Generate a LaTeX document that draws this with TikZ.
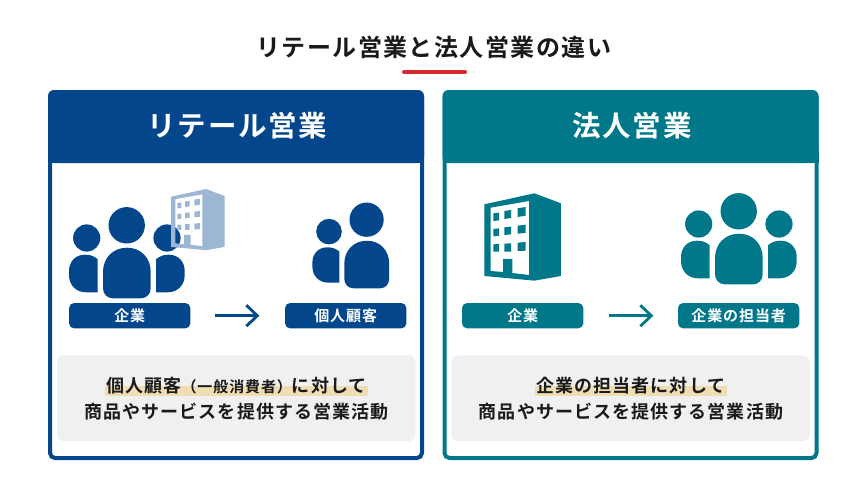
\documentclass[tikz,border=0pt]{standalone}
\usepackage{fontspec}
\usetikzlibrary{arrows.meta}
\newfontfamily\jp[BoldFont={Noto Sans CJK JP Bold},LetterSpace=6]{Noto Sans CJK JP}
\newcommand{\fs}[1]{\fontsize{#1pt}{#1pt}\selectfont}
\definecolor{navy}{HTML}{03468C}
\definecolor{teal2}{HTML}{00788A}
\definecolor{paleblue}{HTML}{9DB6D3}
\definecolor{greybox}{HTML}{F0F0F0}
\definecolor{marker}{HTML}{F0DEB2}
\definecolor{redbar}{HTML}{D7282F}
\definecolor{ink}{HTML}{1A1A1A}
\newcommand{\headbig}{(126.7,225.3) circle[radius=18.2]}
\newcommand{\bodybig}{(103,288) -- (103,272) .. controls (103,258) and (113,247.7) .. (127,247.7) .. controls (141,247.7) and (150.7,258) .. (150.7,272) -- (150.7,288) .. controls (150.7,294) and (146.7,298.3) .. (141,298.3) -- (113,298.3) .. controls (107,298.3) and (103,294) .. (103,288) -- cycle}
\newcommand{\bodysmall}{(97.7,259.3) .. controls (94,256) and (90,254.7) .. (85,254.7) .. controls (75,254.7) and (69,262) .. (69,271) -- (69,275) .. controls (69,285) and (76,292.3) .. (86,292.3) -- (97.7,292.3) -- cycle}
\newcommand{\building}{(28,58) -- (178,25) -- (258,55) -- (258,273) -- (178,287) -- (28,273) -- cycle
  (47,68) -- (162,48) -- (162,270) -- (112,264) -- (112,222) -- (84,222) -- (84,261) -- (47,258) -- cycle
  (55,85) -- (72,83) -- (72,106) -- (55,108) -- cycle
  (88,78) -- (108,75) -- (108,99) -- (88,102) -- cycle
  (128,70) -- (152,66) -- (152,92) -- (128,96) -- cycle
  (55,132) -- (72,130) -- (72,152) -- (55,154) -- cycle
  (88,127) -- (108,125) -- (108,148) -- (88,150) -- cycle
  (128,122) -- (152,119) -- (152,144) -- (128,146) -- cycle
  (55,178) -- (72,177) -- (72,200) -- (55,200) -- cycle
  (88,176) -- (108,175) -- (108,200) -- (88,200) -- cycle
  (128,173) -- (152,171) -- (152,197) -- (128,198) -- cycle}
\tikzset{
  panel/.style={draw=#1,line width=4pt,rounded corners=5pt,fill=white,inner sep=0pt,minimum width=372pt,minimum height=366pt},
  pill/.style={fill=#1,rounded corners=5pt,minimum width=121.3pt,minimum height=25.3pt,inner sep=0pt,text=white,font=\jp\bfseries\fs{15}},
  headtext/.style={text=white,inner sep=0pt,font=\jp\bfseries\fs{28.5}},
  graybox/.style={fill=greybox,rounded corners=7pt,minimum width=358.5pt,minimum height=85.7pt,inner sep=0pt},
  bodytext/.style={text=ink,inner sep=0pt,font=\jp\bfseries\fs{18}},
  flow/.style={draw=#1,line width=2.8pt,-{Straight Barb[length=11pt,width=21pt,line width=2.8pt]}}
}
\begin{document}
\begin{tikzpicture}[x=1pt,y=-1pt]
\useasboundingbox (0,0) rectangle (867,495);
\fill[white] (0,0) rectangle (867,495);
% title
\node[inner sep=0pt,text=ink,font=\jp\bfseries\fs{24}] (title) at (433.7,47.5) {リテール営業と法人営業の違い};
\draw[redbar,line width=4pt,line cap=round] (404,72) -- (465,72);
% left panel
\node[panel=navy] (leftpanel) at (236,275) {};
\fill[navy,rounded corners=6pt] (48,163) -- (48,90) -- (424,90) -- (424,163) -- cycle;
\fill[navy] (48,150) rectangle (424,163);
\node[headtext] (lefthead) at (237.5,126) {リテール営業};
% right panel
\node[panel=teal2] (rightpanel) at (630.5,275) {};
\fill[teal2,rounded corners=6pt] (442.5,163) -- (442.5,90) -- (818.5,90) -- (818.5,163) -- cycle;
\fill[teal2] (442.5,150) rectangle (818.5,163);
\node[headtext] (righthead) at (632,126) {法人営業};
% left icons
\fill[navy] \headbig \bodybig (86.7,238) circle[radius=13.6] \bodysmall;
\begin{scope}[shift={(253.7,0)},xscale=-1]
\fill[navy] (86.7,238) circle[radius=13.6] \bodysmall;
\end{scope}
\begin{scope}[shift={(164.5,183.2)},scale=.2333]
\fill[paleblue,even odd rule] \building;
\end{scope}
\begin{scope}[shift={(247.5,7.9)},scale=.94]
\fill[navy] \headbig \bodybig (86.7,238) circle[radius=13.6] \bodysmall;
\end{scope}
% right icons
\begin{scope}[shift={(475,185)},scale=.3333]
\fill[teal2,even odd rule] \building;
\end{scope}
\begin{scope}[shift={(612,-14)}]
\fill[teal2] \headbig \bodybig (86.7,238) circle[radius=13.6] \bodysmall;
\end{scope}
\begin{scope}[shift={(865.7,-14)},xscale=-1]
\fill[teal2] (86.7,238) circle[radius=13.6] \bodysmall;
\end{scope}
% pills
\node[pill=navy] (la) at (129.7,315.7) {企業};
\node[pill=navy] (lb) at (345.7,315.7) {個人顧客};
\node[pill=teal2] (ra) at (522.7,315.7) {企業};
\node[pill=teal2] (rb) at (738.7,315.7) {企業の担当者};
\draw[flow=navy,shorten <=24.5pt,shorten >=25.5pt] (la.east) -- (lb.west);
\draw[flow=teal2,shorten <=25.5pt,shorten >=24.5pt] (ra.east) -- (rb.west);
% grey boxes
\node[graybox] (lbox) at (236.3,398.2) {};
\node[graybox] (rbox) at (630.7,398.2) {};
\fill[marker] (105,385.7) rectangle (368,395.7);
\fill[marker] (535,385.7) rectangle (727,395.7);
\node[bodytext] (lt1) at (236.5,385.5) {個人顧客{\fs{15}（一般消費者）}に対して};
\node[bodytext] (lt2) at (236.5,411.5) {商品やサービスを提供する営業活動};
\node[bodytext] (rt1) at (631,385.5) {企業の担当者に対して};
\node[bodytext] (rt2) at (631,411.5) {商品やサービスを提供する営業活動};
\end{tikzpicture}
\end{document}
